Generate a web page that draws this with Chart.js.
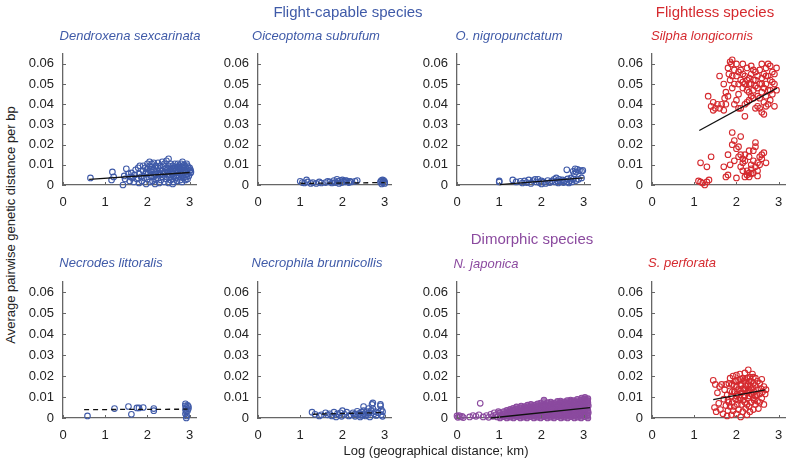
<!DOCTYPE html>
<html>
<head>
<meta charset="utf-8">
<script src="https://cdn.jsdelivr.net/npm/chart.js@4.4.1/dist/chart.umd.min.js"></script>
<style>
  body { margin: 0; background: #fff; font-family: "Liberation Sans", Arial, Helvetica, sans-serif; }
  #fig { position: relative; width: 788px; height: 467px; overflow: hidden; }
  #fig canvas { position: absolute; }
  .lbl { position: absolute; white-space: nowrap; transform: translate(-50%, -50%); color: #222; }
  .sp { font-style: italic; font-size: 13px; }
  .grp { font-size: 15px; }
  .ax { font-size: 13px; }
</style>
</head>
<body>
<div id="fig"></div>
<script>
// tick values shared by every panel
const xTicks = [0, 1, 2, 3];
const yTicks = [0, 0.01, 0.02, 0.03, 0.04, 0.05, 0.06];

// [log distance, genetic distance]
const dendroxenaPts = [[0.65,0.0035],[1.15,0.0025],[1.17,0.0065],[1.2,0.004],[1.42,0.0],[1.45,0.0045],[1.47,0.003],[1.5,0.008],[1.55,0.0055],[1.58,0.002],[1.6,0.004],[1.62,0.006],[1.65,0.0035],[1.68,0.0015],[1.7,0.005],[1.72,0.0075],[1.75,0.003],[1.78,0.0085],[1.8,0.001],[1.8,0.0055],[1.82,0.0095],[1.85,0.004],[1.87,0.002],[1.9,0.007],[1.9,0.0095],[1.92,0.0035],[1.95,0.0055],[1.97,0.0005],[2.0,0.0105],[2.0,0.008],[2.0,0.003],[2.02,0.006],[2.05,0.0015],[2.05,0.0115],[2.08,0.0045],[2.1,0.009],[2.1,0.0065],[2.12,0.002],[2.15,0.011],[2.15,0.0075],[2.15,0.004],[2.18,0.0005],[2.2,0.0095],[2.2,0.0055],[2.2,0.0025],[2.22,0.007],[2.25,0.0035],[2.25,0.0085],[2.28,0.001],[2.3,0.0095],[2.3,0.0055],[2.32,0.0025],[2.35,0.007],[2.35,0.004],[2.38,0.0095],[2.4,0.0105],[2.4,0.0015],[2.42,0.006],[2.45,0.012],[2.45,0.0085],[2.45,0.003],[2.48,0.005],[2.5,0.013],[2.5,0.0095],[2.5,0.0065],[2.5,0.001],[2.52,0.004],[2.55,0.008],[2.55,0.0025],[2.58,0.0055],[2.6,0.0095],[2.6,0.007],[2.6,0.003],[2.62,0.0045],[2.62,0.0015],[2.65,0.0085],[2.65,0.006],[2.65,0.0105],[2.68,0.0035],[2.68,0.0075],[2.7,0.005],[2.7,0.009],[2.7,0.002],[2.72,0.0065],[2.72,0.0105],[2.75,0.004],[2.75,0.008],[2.75,0.0095],[2.78,0.0055],[2.78,0.0025],[2.8,0.007],[2.8,0.0105],[2.8,0.009],[2.82,0.0045],[2.82,0.0015],[2.85,0.006],[2.85,0.0085],[2.85,0.0035],[2.87,0.01],[2.88,0.0075],[2.9,0.005],[2.9,0.0025],[2.9,0.009],[2.92,0.0065],[2.92,0.004],[2.95,0.0095],[2.95,0.0075],[2.95,0.0055],[2.95,0.003],[2.97,0.0085],[2.98,0.0045],[3.0,0.007],[3.0,0.0085],[3.02,0.006],[3.02,0.0075],[2.55,0.0105],[2.35,0.0115],[2.25,0.011],[2.1,0.0105],[1.95,0.0085],[2.05,0.0095],[2.6,0.0005],[2.4,0.0065],[2.3,0.0075],[2.7,0.0065],[2.85,0.0095],[2.77,0.006],[2.67,0.0045],[2.57,0.0065],[2.47,0.0075],[2.37,0.0055],[2.27,0.006],[2.17,0.0055],[2.07,0.0075],[1.97,0.0065],[2.93,0.0105],[3.03,0.0065],[2.83,0.0115],[2.73,0.0085],[2.63,0.0085],[2.53,0.0085]];
const oiceoptomaPts = [[1.0,0.0018],[1.05,0.0012],[1.1,0.001],[1.15,0.0025],[1.18,0.0015],[1.25,0.0008],[1.3,0.0012],[1.38,0.0008],[1.45,0.0015],[1.5,0.001],[1.6,0.0012],[1.65,0.0018],[1.7,0.0015],[1.75,0.001],[1.8,0.0022],[1.83,0.0012],[1.87,0.0028],[1.9,0.0018],[1.92,0.0008],[1.95,0.0022],[1.98,0.0012],[2.0,0.0025],[2.02,0.0018],[2.05,0.0015],[2.08,0.0022],[2.1,0.002],[2.15,0.0012],[2.18,0.0018],[2.2,0.0015],[2.3,0.0018],[2.35,0.0022],[2.9,0.0015],[2.92,0.0022],[2.95,0.0012],[2.95,0.0025],[2.97,0.0018],[3.0,0.0008],[3.0,0.0015],[2.93,0.0005],[2.98,0.0022]];
const nigropunctatumPts = [[1.0,0.0015],[1.0,0.002],[1.32,0.0025],[1.4,0.0015],[1.5,0.0018],[1.55,0.001],[1.6,0.002],[1.65,0.0012],[1.7,0.0025],[1.75,0.0008],[1.8,0.0022],[1.85,0.0028],[1.88,0.0015],[1.92,0.0028],[1.95,0.0012],[2.0,0.002],[2.0,0.0005],[2.05,0.0015],[2.1,0.0008],[2.15,0.0022],[2.2,0.0012],[2.25,0.002],[2.3,0.0028],[2.32,0.0015],[2.35,0.0035],[2.38,0.002],[2.4,0.001],[2.42,0.0028],[2.45,0.0018],[2.5,0.0025],[2.52,0.0012],[2.55,0.002],[2.6,0.0015],[2.62,0.003],[2.65,0.001],[2.68,0.0022],[2.7,0.0035],[2.72,0.0015],[2.75,0.0028],[2.75,0.0068],[2.78,0.0055],[2.8,0.008],[2.82,0.0022],[2.82,0.0065],[2.85,0.0078],[2.88,0.0028],[2.9,0.0072],[2.95,0.0068],[2.95,0.0035],[2.98,0.0072],[2.6,0.0075]];
const silphaPts = [[1.33,0.044],[1.4,0.039],[1.45,0.037],[1.5,0.038],[1.55,0.04],[1.45,0.041],[1.6,0.038],[1.65,0.04],[1.7,0.037],[1.75,0.04],[1.6,0.054],[1.7,0.05],[1.75,0.046],[1.8,0.058],[1.85,0.061],[1.88,0.06],[1.9,0.062],[1.82,0.055],[1.8,0.044],[1.85,0.052],[1.9,0.048],[1.95,0.05],[1.95,0.04],[2.0,0.042],[2.0,0.06],[2.05,0.056],[2.05,0.045],[2.1,0.052],[2.1,0.038],[2.15,0.055],[2.15,0.048],[2.2,0.05],[2.2,0.04],[2.2,0.034],[2.25,0.058],[2.25,0.052],[2.3,0.053],[2.3,0.046],[2.3,0.042],[2.35,0.05],[2.35,0.055],[2.4,0.057],[2.4,0.047],[2.4,0.043],[2.45,0.052],[2.45,0.049],[2.5,0.054],[2.5,0.044],[2.5,0.039],[2.55,0.05],[2.55,0.057],[2.6,0.06],[2.6,0.053],[2.6,0.046],[2.6,0.036],[2.65,0.041],[2.65,0.055],[2.7,0.058],[2.7,0.05],[2.7,0.044],[2.7,0.039],[2.75,0.054],[2.75,0.047],[2.8,0.059],[2.8,0.052],[2.8,0.042],[2.85,0.056],[2.85,0.045],[2.9,0.039],[2.9,0.05],[2.95,0.047],[2.95,0.058],[2.0,0.054],[2.1,0.057],[2.2,0.054],[2.3,0.05],[2.35,0.044],[2.45,0.056],[2.55,0.043],[2.65,0.048],[2.75,0.04],[2.85,0.051],[1.95,0.057],[2.05,0.05],[2.15,0.051],[2.25,0.047],[2.4,0.052],[2.5,0.048],[2.6,0.05],[2.7,0.054],[2.8,0.047],[2.9,0.055],[2.25,0.041],[2.55,0.038],[2.45,0.038],[2.65,0.035],[2.35,0.059],[2.15,0.06],[1.9,0.054],[2.75,0.06],[2.05,0.038],[1.72,0.043],
  [1.1,0.002],[1.15,0.0015],[1.2,0.001],[1.25,0.0],[1.3,0.0015],[1.35,0.0025],[1.15,0.011],[1.3,0.009],[1.4,0.014],[1.7,0.009],[1.75,0.004],[1.8,0.005],[1.8,0.015],[1.85,0.01],[1.9,0.02],[1.95,0.022],[1.9,0.026],[2.0,0.018],[2.05,0.019],[2.0,0.0035],[2.1,0.024],[2.1,0.015],[2.15,0.013],[2.15,0.011],[2.1,0.009],[2.2,0.012],[2.25,0.005],[2.25,0.007],[2.3,0.006],[2.3,0.014],[2.35,0.008],[2.35,0.01],[2.4,0.006],[2.4,0.017],[2.45,0.021],[2.45,0.019],[2.45,0.009],[2.5,0.011],[2.5,0.007],[2.55,0.01],[2.55,0.014],[2.6,0.015],[2.65,0.016],[2.7,0.011],[2.2,0.004],[2.3,0.004],[2.4,0.012],[2.5,0.0045],[2.6,0.013],[1.95,0.012],[2.05,0.014],[2.3,0.017],[2.35,0.0055],[2.2,0.015],[2.15,0.007]];
const necrodesPts = [[0.58,0.001],[1.22,0.0045],[1.55,0.0055],[1.62,0.0018],[1.75,0.0048],[1.8,0.0048],[1.9,0.005],[2.15,0.0045],[2.15,0.0035],[2.9,0.0068],[2.9,0.0058],[2.92,0.005],[2.9,0.004],[2.92,0.003],[2.9,0.002],[2.93,0.001],[2.92,0.0],[2.95,0.006],[2.97,0.0045],[2.97,0.0055],[2.95,0.0035]];
const necrophilaPts = [[1.28,0.0028],[1.35,0.0018],[1.45,0.001],[1.5,0.0015],[1.6,0.0025],[1.65,0.0015],[1.7,0.002],[1.75,0.001],[1.8,0.0028],[1.85,0.0005],[1.88,0.002],[1.92,0.0015],[1.95,0.0025],[1.98,0.0008],[2.0,0.0035],[2.05,0.0018],[2.1,0.0028],[2.15,0.001],[2.2,0.0015],[2.25,0.0025],[2.3,0.0008],[2.35,0.0032],[2.38,0.0015],[2.4,0.0022],[2.42,0.0005],[2.45,0.0028],[2.48,0.0015],[2.5,0.0055],[2.5,0.0035],[2.52,0.002],[2.55,0.001],[2.58,0.003],[2.6,0.0015],[2.62,0.0025],[2.65,0.0005],[2.68,0.0035],[2.7,0.0065],[2.72,0.0072],[2.72,0.0045],[2.75,0.002],[2.78,0.003],[2.8,0.0012],[2.85,0.0025],[2.9,0.0065],[2.9,0.0058],[2.92,0.004],[2.92,0.0015],[2.95,0.003],[2.95,0.0008],[2.45,0.0012],[2.3,0.002],[2.62,0.0045]];
const japonicaPts = [[0.0,0.001],[0.02,0.0003],[0.05,0.0012],[0.08,0.0005],[0.12,0.0008],[0.15,0.0002],[0.3,0.0005],[0.38,0.0012],[0.45,0.0008],[0.52,0.0015],[0.55,0.007],[0.62,0.0005],[0.7,0.0012],[0.75,0.0003],[0.8,0.0018],[0.85,0.0008],[0.88,0.0025],[0.92,0.0015],[0.95,0.0005],[0.98,0.003],
  [1.02,0.0],[1.03,0.0013],[1.01,0.0024],[1.1,0.0006],[1.09,0.0017],[1.11,0.0031],[1.18,0.0],[1.17,0.0011],[1.19,0.0026],[1.18,0.0036],[1.26,0.0004],[1.27,0.0019],[1.25,0.003],[1.26,0.0041],[1.34,0.0],[1.33,0.0013],[1.35,0.0023],[1.34,0.0037],[1.33,0.0046],[1.42,0.0006],[1.41,0.0017],[1.43,0.0029],[1.42,0.0043],[1.41,0.0053],[1.5,0.0],[1.49,0.0011],[1.51,0.0025],[1.5,0.0035],[1.49,0.0049],[1.52,0.0057],[1.58,0.0004],[1.59,0.0019],[1.57,0.0031],[1.58,0.0041],[1.6,0.0055],[1.66,0.0],[1.65,0.0013],[1.67,0.0023],[1.66,0.0037],[1.65,0.0047],[1.67,0.0061],[1.74,0.0006],[1.73,0.0017],[1.75,0.0029],[1.74,0.0043],[1.73,0.0053],[1.75,0.0065],[1.82,0.0],[1.81,0.0012],[1.83,0.0025],[1.82,0.0035],[1.8,0.0049],[1.83,0.0061],[1.9,0.0004],[1.89,0.0019],[1.91,0.0029],[1.9,0.0043],[1.89,0.0055],[1.91,0.0067],[1.98,0.0],[1.97,0.0013],[1.99,0.0023],[1.98,0.0037],[1.97,0.0047],[1.99,0.0059],[1.98,0.0071],[2.06,0.0006],[2.05,0.0017],[2.07,0.0031],[2.06,0.0041],[2.05,0.0055],[2.07,0.0065],[2.06,0.0086],[2.14,0.0],[2.13,0.0012],[2.15,0.0025],[2.14,0.0035],[2.13,0.0049],[2.15,0.0059],[2.14,0.0073],[2.22,0.0004],[2.21,0.0019],[2.23,0.0029],[2.22,0.0043],[2.21,0.0053],[2.23,0.0067],[2.22,0.0076],[2.3,0.0],[2.29,0.0013],[2.31,0.0023],[2.3,0.0037],[2.29,0.0047],[2.31,0.0061],[2.3,0.0071],[2.38,0.0006],[2.37,0.0017],[2.39,0.0031],[2.38,0.0041],[2.37,0.0055],[2.39,0.0065],[2.38,0.0079],[2.46,0.0],[2.45,0.0012],[2.47,0.0025],[2.46,0.0035],[2.45,0.0049],[2.47,0.0059],[2.46,0.0073],[2.45,0.0081],[2.54,0.0004],[2.53,0.0019],[2.55,0.0029],[2.54,0.0043],[2.53,0.0053],[2.55,0.0067],[2.54,0.0077],[2.62,0.0],[2.61,0.0013],[2.63,0.0023],[2.62,0.0037],[2.61,0.0047],[2.63,0.0061],[2.62,0.0071],[2.61,0.0083],[2.7,0.0006],[2.69,0.0017],[2.71,0.0031],[2.7,0.0041],[2.69,0.0055],[2.71,0.0065],[2.7,0.0079],[2.69,0.0086],[2.78,0.0],[2.77,0.0012],[2.79,0.0025],[2.78,0.0035],[2.77,0.0049],[2.79,0.0059],[2.78,0.0073],[2.77,0.0083],[2.86,0.0004],[2.85,0.0019],[2.87,0.0029],[2.86,0.0043],[2.85,0.0053],[2.87,0.0067],[2.86,0.0077],[2.85,0.0089],[2.94,0.0],[2.93,0.0013],[2.95,0.0023],[2.94,0.0037],[2.93,0.0047],[2.95,0.0061],[2.94,0.0071],[2.93,0.0085],[2.95,0.0095],[3.02,0.0006],[3.01,0.0017],[3.03,0.0031],[3.02,0.0041],[3.01,0.0055],[3.03,0.0065],[3.02,0.0079],[3.01,0.0089],[3.03,0.0098],[3.1,0.0],[3.09,0.0012],[3.11,0.0025],[3.1,0.0035],[3.09,0.0049],[3.11,0.0059],[3.1,0.0073],[3.09,0.0083],[3.1,0.0092]];
const perforataPts = [[1.45,0.018],[1.5,0.016],[1.55,0.012],[1.48,0.005],[1.52,0.003],[1.58,0.007],[1.6,0.015],[1.65,0.016],[1.62,0.004],[1.68,0.002],[1.7,0.009],[1.72,0.0135],[1.75,0.016],[1.75,0.006],[1.78,0.011],[1.78,0.001],[1.8,0.0085],[1.8,0.0035],[1.82,0.0165],[1.85,0.019],[1.85,0.013],[1.85,0.0055],[1.88,0.0105],[1.88,0.0015],[1.9,0.016],[1.9,0.0075],[1.92,0.0035],[1.92,0.02],[1.95,0.0125],[1.95,0.0055],[1.97,0.0175],[1.98,0.009],[2.0,0.0205],[2.0,0.015],[2.0,0.002],[2.02,0.0115],[2.02,0.0065],[2.05,0.018],[2.05,0.0135],[2.05,0.004],[2.08,0.0095],[2.08,0.021],[2.1,0.016],[2.1,0.0005],[2.12,0.012],[2.12,0.0065],[2.15,0.019],[2.15,0.014],[2.15,0.003],[2.18,0.0105],[2.18,0.0175],[2.2,0.0215],[2.2,0.0075],[2.2,0.0135],[2.22,0.0045],[2.22,0.0155],[2.25,0.019],[2.25,0.012],[2.25,0.0015],[2.28,0.023],[2.28,0.0095],[2.28,0.016],[2.3,0.0055],[2.3,0.0135],[2.32,0.0195],[2.32,0.003],[2.35,0.0175],[2.35,0.0115],[2.35,0.0075],[2.38,0.0145],[2.38,0.021],[2.4,0.0095],[2.4,0.0165],[2.4,0.004],[2.42,0.0125],[2.45,0.019],[2.45,0.0155],[2.45,0.0065],[2.48,0.011],[2.5,0.0175],[2.5,0.0135],[2.5,0.008],[2.52,0.0045],[2.55,0.0165],[2.55,0.0115],[2.58,0.014],[2.6,0.0095],[2.6,0.0185],[2.62,0.0125],[2.65,0.015],[2.65,0.0065],[2.68,0.0115],[2.7,0.0135],[2.1,0.0185],[2.0,0.0175],[1.95,0.0155],[2.3,0.0105],[2.2,0.0105],[2.1,0.013],[2.05,0.0085],[2.15,0.0085],[2.25,0.0065],[2.35,0.014],[2.45,0.0105],[2.4,0.0195],[2.3,0.0175],[2.2,0.0185],[2.0,0.0105],[1.9,0.0125],[1.82,0.0075],[2.32,0.0155],[2.42,0.0085],[2.55,0.0075],[2.12,0.0155],[2.28,0.0125]];

// fitted regression lines (end points)
const dendroxenaFit = [[0.62,0.0028],[3.0,0.0062]];
const oiceoptomaFit = [[1.0,0.0008],[3.0,0.0012]];
const nigropunctatumFit = [[1.0,0.0002],[3.0,0.0035]];
const silphaFit = [[1.12,0.027],[2.96,0.048]];
const necrodesFit = [[0.5,0.0040],[2.95,0.0042]];
const necrophilaFit = [[1.3,0.0018],[2.95,0.0026]];
const japonicaFit = [[0.8,0.0],[3.15,0.005]];
const perforataFit = [[1.45,0.0088],[2.68,0.0134]];

const BLUE = '#3f5aa8', RED = '#d52a2f', PURPLE = '#8b4a9f';
const AXIS = '#666';

const colLeft = [63, 258, 457, 652];
const rowTop = [47, 275];
const rowH = [138, 143];
const plotW = 133;
const yAxisW = 45, xAxisH = 30, padT = 10, padR = 10;

const panels = [
  { name: 'Dendroxena sexcarinata', pts: dendroxenaPts, fit: dendroxenaFit, color: BLUE, dash: false, col: 0, row: 0, tx: 130, ty: 35 },
  { name: 'Oiceoptoma subrufum', pts: oiceoptomaPts, fit: oiceoptomaFit, color: BLUE, dash: true, col: 1, row: 0, tx: 316, ty: 35 },
  { name: 'O. nigropunctatum', pts: nigropunctatumPts, fit: nigropunctatumFit, color: BLUE, dash: false, col: 2, row: 0, tx: 509, ty: 35 },
  { name: 'Silpha longicornis', pts: silphaPts, fit: silphaFit, color: RED, dash: false, col: 3, row: 0, tx: 702, ty: 35 },
  { name: 'Necrodes littoralis', pts: necrodesPts, fit: necrodesFit, color: BLUE, dash: true, col: 0, row: 1, tx: 111, ty: 262 },
  { name: 'Necrophila brunnicollis', pts: necrophilaPts, fit: necrophilaFit, color: BLUE, dash: true, col: 1, row: 1, tx: 317, ty: 262 },
  // the cloud past x=1 is so dense in the original that it reads as a solid band
  { name: 'N. japonica', pts: japonicaPts, fit: japonicaFit, color: PURPLE, dash: false, col: 2, row: 1, tx: 486, ty: 263, solidFrom: 1.0 },
  { name: 'S. perforata', pts: perforataPts, fit: perforataFit, color: RED, dash: false, col: 3, row: 1, tx: 682, ty: 262 }
];

const fig = document.getElementById('fig');

function addLabel(text, cls, x, y, color, rotate) {
  const d = document.createElement('div');
  d.className = 'lbl ' + cls;
  d.textContent = text;
  d.style.left = x + 'px';
  d.style.top = y + 'px';
  if (color) d.style.color = color;
  if (rotate) d.style.transform = 'translate(-50%, -50%) rotate(-90deg)';
  fig.appendChild(d);
}

// small inward tick marks, placed with the chart's own scales
const innerTicks = {
  id: 'innerTicks',
  afterDraw(chart) {
    const { ctx, chartArea, scales } = chart;
    ctx.save();
    ctx.strokeStyle = AXIS;
    ctx.lineWidth = 1;
    ctx.beginPath();
    yTicks.forEach(v => {
      const y = Math.round(scales.y.getPixelForValue(v)) + 0.5;
      ctx.moveTo(chartArea.left, y);
      ctx.lineTo(chartArea.left + 3, y);
    });
    xTicks.forEach(v => {
      const x = Math.round(scales.x.getPixelForValue(v)) + 0.5;
      ctx.moveTo(x, chartArea.bottom);
      ctx.lineTo(x, chartArea.bottom - 3);
    });
    ctx.stroke();
    ctx.restore();
  }
};

const tickFont = { family: '"Liberation Sans", Arial, Helvetica, sans-serif', size: 13 };

panels.forEach(p => {
  const h = rowH[p.row];
  const cv = document.createElement('canvas');
  const w = yAxisW + plotW + padR;
  const ht = padT + h + xAxisH;
  cv.width = w; cv.height = ht;
  cv.style.left = (colLeft[p.col] - yAxisW) + 'px';
  cv.style.top = (rowTop[p.row] - padT) + 'px';
  fig.appendChild(cv);

  const fillFor = ctx => {
    if (p.solidFrom === undefined || !ctx.raw) return 'rgba(255,255,255,0)';
    return ctx.raw.x >= p.solidFrom ? 'rgba(139,74,159,0.75)' : 'rgba(255,255,255,0)';
  };

  new Chart(cv, {
    type: 'scatter',
    data: {
      datasets: [
        {
          data: p.fit.map(q => ({ x: q[0], y: q[1] })),
          showLine: true,
          borderColor: '#111',
          borderWidth: 1.3,
          borderDash: p.dash ? [5, 4] : [],
          pointRadius: 0,
          order: 0,
          clip: false
        },
        {
          data: p.pts.map(q => ({ x: q[0], y: q[1] })),
          borderColor: p.color,
          backgroundColor: fillFor,
          borderWidth: 1.1,
          pointRadius: 2.8,
          order: 1,
          clip: false
        }
      ]
    },
    options: {
      responsive: false,
      animation: false,
      devicePixelRatio: 1,
      layout: { padding: { top: padT, right: padR, left: 0, bottom: 0 } },
      plugins: { legend: { display: false }, tooltip: { enabled: false } },
      scales: {
        x: {
          type: 'linear', min: 0, max: 3.15,
          afterBuildTicks: s => { s.ticks = xTicks.map(v => ({ value: v })); },
          afterFit: s => { s.height = xAxisH; },
          grid: { drawOnChartArea: false, drawTicks: false },
          border: { color: AXIS, width: 1.3 },
          ticks: { color: '#222', font: tickFont, padding: 10, maxRotation: 0,
                   callback: v => String(v) }
        },
        y: {
          type: 'linear', min: 0, max: 0.065,
          afterBuildTicks: s => { s.ticks = yTicks.map(v => ({ value: v })); },
          afterFit: s => { s.width = yAxisW; },
          grid: { drawOnChartArea: false, drawTicks: false },
          border: { color: AXIS, width: 1.3 },
          ticks: { color: '#222', font: tickFont, padding: 9,
                   callback: v => v === 0 ? '0' : v.toFixed(2) }
        }
      }
    },
    plugins: [innerTicks]
  });

  addLabel(p.name, 'sp', p.tx, p.ty, p.color);
});

addLabel('Flight-capable species', 'grp', 348, 11, BLUE);
addLabel('Flightless species', 'grp', 715, 11, RED);
addLabel('Dimorphic species', 'grp', 532, 238, PURPLE);
addLabel('Average pairwise genetic distance per bp', 'ax', 10, 225, '#222', true);
addLabel('Log (geographical distance; km)', 'ax', 436, 450, '#222');
</script>
</body>
</html>
